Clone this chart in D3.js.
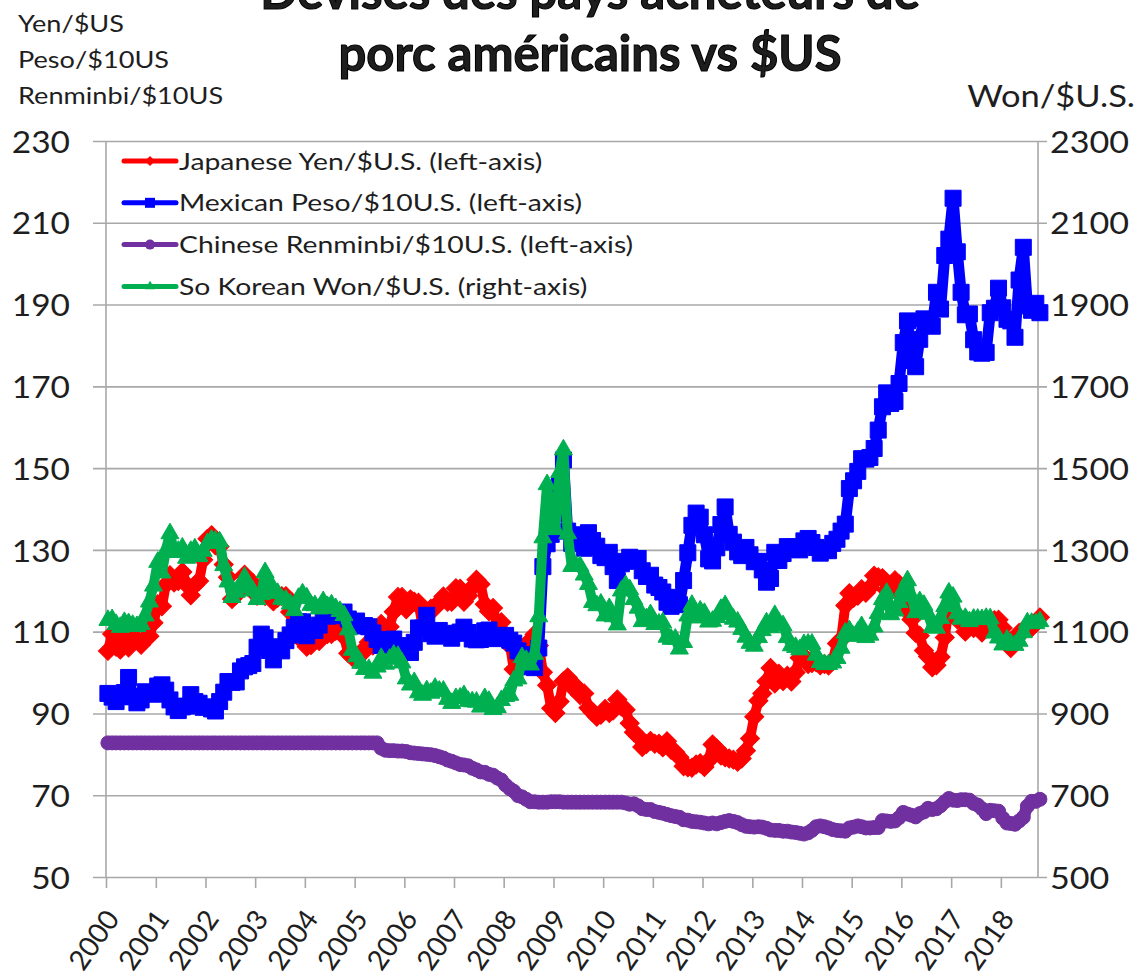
<!DOCTYPE html>
<html>
<head>
<meta charset="utf-8">
<script src="https://cdn.jsdelivr.net/npm/d3@7"></script>
<style>
  html, body { margin: 0; padding: 0; background: #ffffff; }
  svg { display: block; }
  text { font-family: Lato, "Open Sans", sans-serif; fill: #1e1e1e; }
</style>
</head>
<body>
<svg id="chart" width="1142" height="978"></svg>
<script>
// ---- Data: monthly values, January 2000 to October 2018 ----
const firstYear = 2000;
const lastMonth = "2018-10";

const leftTicks  = [50, 70, 90, 110, 130, 150, 170, 190, 210, 230];
const rightTicks = [500, 700, 900, 1100, 1300, 1500, 1700, 1900, 2100, 2300];

const seriesNames = [
  "Japanese Yen/$U.S. (left-axis)",
  "Mexican Peso/$10U.S. (left-axis)",
  "Chinese Renminbi/$10U.S. (left-axis)",
  "So Korean Won/$U.S. (right-axis)"
];

const leftAxisTitles = ["Yen/$US", "Peso/$10US", "Renminbi/$10US"];
const rightAxisTitle = "Won/$U.S.";
const titleLines = ["Devises des pays acheteurs de", "porc américains vs $US"];

const yenPerUSD = [
  105.3, 109.4, 106.3, 105.6, 108.3, 106.1, 108.2, 108.1, 106.8, 108.4, 108.9, 112.2, // 2000
  116.7, 116.2, 121.5, 123.8, 122.0, 122.4, 124.6, 121.5, 118.9, 121.4, 122.4, 127.6, // 2001
  132.7, 133.6, 131.1, 130.8, 126.4, 123.3, 118.0, 119.0, 120.5, 123.9, 121.6, 121.9, // 2002
  118.8, 119.3, 118.7, 119.9, 117.4, 118.3, 118.7, 118.7, 114.8, 109.5, 109.2, 107.7, // 2003
  106.3, 106.7, 108.5, 107.7, 112.2, 109.4, 109.4, 110.2, 110.0, 108.8, 104.7, 103.8, // 2004
  103.3, 104.9, 105.3, 107.4, 106.6, 108.8, 111.9, 110.6, 111.2, 114.9, 118.5, 118.5, // 2005
  115.5, 117.9, 117.3, 117.1, 111.5, 114.5, 115.6, 115.9, 117.2, 118.6, 117.3, 117.3, // 2006
  120.6, 120.5, 117.3, 118.8, 120.8, 122.7, 121.6, 116.7, 115.0, 115.8, 111.0, 112.3, // 2007
  107.6, 107.1, 100.8, 102.7, 104.4, 106.9, 106.9, 109.3, 106.6, 100.1,  96.9,  91.3, // 2008
   90.1,  92.9,  97.9,  98.8,  96.6,  96.6,  94.5,  94.9,  91.4,  90.3,  89.2,  89.7, // 2009
   91.1,  90.1,  90.7,  93.4,  91.7,  90.9,  87.6,  85.4,  84.4,  81.8,  82.5,  83.3, // 2010
   82.6,  82.6,  81.7,  83.2,  81.1,  80.5,  79.3,  77.1,  76.8,  76.7,  77.5,  77.8, // 2011
   76.9,  78.5,  82.4,  81.4,  79.7,  79.3,  79.0,  78.7,  78.2,  79.0,  80.9,  83.9, // 2012
   89.2,  93.1,  94.9,  97.8, 101.1,  97.3,  99.7,  97.9,  99.2,  97.8, 100.0, 103.6, // 2013
  103.9, 102.1, 102.3, 102.5, 101.8, 102.1, 101.7, 102.9, 107.1, 108.0, 116.4, 119.4, // 2014
  118.3, 118.8, 120.4, 119.5, 120.8, 123.7, 123.3, 123.1, 120.1, 120.1, 122.6, 121.6, // 2015
  118.2, 115.0, 113.0, 109.7, 109.0, 105.4, 103.9, 101.3, 101.8, 103.8, 108.6, 116.1, // 2016
  114.7, 113.0, 112.9, 110.0, 112.2, 110.9, 112.4, 109.8, 110.8, 112.9, 112.8, 112.9, // 2017
  110.9, 107.9, 106.0, 107.6, 109.7, 110.1, 111.4, 111.0, 112.1, 113.5                // 2018
];

const pesoPer10USD = [
   94.9,  94.0,  92.9,  94.1,  95.1,  98.8,  94.1,  92.6,  93.3,  95.3,  95.1,  94.7, // 2000
   96.7,  97.0,  95.7,  93.3,  91.6,  90.7,  91.6,  91.8,  94.6,  92.9,  92.5,  91.5, // 2001
   91.6,  91.1,  90.6,  92.9,  95.2,  97.8,  97.6,  97.7, 100.4, 101.4, 101.7, 102.2, // 2002
  106.2, 109.4, 108.5, 105.4, 103.1, 106.3, 105.3, 107.8, 109.2, 111.0, 112.4, 112.4, // 2003
  109.0, 110.5, 110.3, 111.6, 115.1, 113.8, 114.3, 113.9, 114.2, 114.8, 113.1, 112.2, // 2004
  112.6, 111.4, 111.5, 111.2, 109.7, 108.1, 106.6, 106.9, 107.9, 108.2, 106.6, 106.3, // 2005
  105.5, 104.9, 107.4, 110.9, 110.9, 114.0, 109.5, 108.9, 110.3, 109.4, 109.2, 108.4, // 2006
  109.6, 109.9, 111.1, 109.8, 108.2, 108.0, 108.1, 110.2, 110.4, 108.3, 109.0, 108.7, // 2007
  109.1, 107.9, 107.2, 105.3, 104.4, 103.3, 101.4, 101.2, 106.0, 125.9, 131.5, 133.8, // 2008
  138.9, 146.0, 152.0, 134.6, 131.6, 133.3, 133.7, 130.4, 134.2, 132.3, 130.9, 128.6, // 2009
  128.1, 129.4, 125.9, 122.5, 126.6, 127.2, 128.2, 127.4, 127.9, 124.9, 123.5, 123.8, // 2010
  121.4, 120.8, 119.7, 117.2, 116.2, 118.4, 116.6, 122.5, 129.3, 136.0, 139.0, 138.0, // 2011
  133.7, 127.8, 127.3, 130.5, 136.2, 140.5, 133.8, 131.9, 129.5, 128.6, 130.6, 128.8, // 2012
  127.1, 127.2, 125.1, 122.1, 123.0, 129.4, 127.4, 129.1, 130.8, 130.1, 130.7, 130.0, // 2013
  132.2, 132.8, 131.8, 130.6, 129.2, 129.9, 129.8, 131.6, 132.6, 134.6, 136.3, 145.0, // 2014
  146.9, 149.2, 152.3, 152.2, 152.6, 154.8, 159.3, 165.0, 168.4, 165.8, 166.3, 170.7, // 2015
  180.7, 186.0, 176.3, 174.8, 181.5, 186.5, 185.9, 184.7, 193.0, 188.9, 202.0, 206.0, // 2016
  216.0, 202.9, 193.0, 187.5, 187.7, 181.4, 178.4, 178.1, 178.3, 188.0, 189.1, 194.0, // 2017
  189.2, 186.4, 186.0, 182.0, 196.0, 204.0, 189.7, 188.6, 190.3, 188.0                // 2018
];

const renminbiPer10USD = [
  82.8, 82.8, 82.8, 82.8, 82.8, 82.8, 82.8, 82.8, 82.8, 82.8, 82.8, 82.8, // 2000
  82.8, 82.8, 82.8, 82.8, 82.8, 82.8, 82.8, 82.8, 82.8, 82.8, 82.8, 82.8, // 2001
  82.8, 82.8, 82.8, 82.8, 82.8, 82.8, 82.8, 82.8, 82.8, 82.8, 82.8, 82.8, // 2002
  82.8, 82.8, 82.8, 82.8, 82.8, 82.8, 82.8, 82.8, 82.8, 82.8, 82.8, 82.8, // 2003
  82.8, 82.8, 82.8, 82.8, 82.8, 82.8, 82.8, 82.8, 82.8, 82.8, 82.8, 82.8, // 2004
  82.8, 82.8, 82.8, 82.8, 82.8, 82.8, 81.5, 81.0, 80.9, 80.9, 80.8, 80.8, // 2005
  80.7, 80.4, 80.3, 80.2, 80.1, 80.0, 79.9, 79.7, 79.4, 79.1, 78.6, 78.3, // 2006
  77.9, 77.5, 77.4, 77.2, 76.6, 76.2, 75.7, 75.6, 75.1, 74.9, 74.2, 73.7, // 2007
  72.5, 71.6, 71.0, 69.9, 69.6, 69.0, 68.4, 68.4, 68.3, 68.3, 68.3, 68.4, // 2008
  68.4, 68.4, 68.3, 68.3, 68.3, 68.3, 68.3, 68.3, 68.3, 68.3, 68.3, 68.3, // 2009
  68.3, 68.3, 68.3, 68.3, 68.3, 68.1, 67.8, 67.9, 67.4, 66.7, 66.5, 66.5, // 2010
  66.0, 65.8, 65.6, 65.3, 65.0, 64.8, 64.6, 64.0, 63.9, 63.6, 63.5, 63.4, // 2011
  63.2, 63.0, 63.2, 63.0, 63.3, 63.6, 63.8, 63.6, 63.3, 62.8, 62.4, 62.3, // 2012
  62.2, 62.3, 62.2, 61.9, 61.5, 61.4, 61.4, 61.2, 61.2, 61.0, 60.9, 60.7, // 2013
  60.5, 60.8, 61.4, 62.3, 62.5, 62.3, 62.0, 61.6, 61.4, 61.3, 61.2, 62.0, // 2014
  62.2, 62.5, 62.3, 62.0, 62.0, 62.1, 62.1, 63.8, 63.7, 63.6, 63.7, 64.5, // 2015
  65.8, 65.4, 65.1, 64.7, 65.5, 65.9, 66.8, 66.5, 66.7, 67.4, 68.4, 69.2, // 2016
  68.8, 68.7, 68.9, 68.9, 68.8, 68.0, 67.6, 66.7, 65.5, 66.3, 66.2, 66.1, // 2017
  64.4, 63.2, 63.1, 62.9, 63.7, 64.6, 67.3, 68.5, 68.5, 69.0              // 2018
];

const wonPerUSD = [
  1128, 1130, 1118, 1111, 1123, 1120, 1116, 1113, 1118, 1139, 1173, 1212, // 2000
  1270, 1244, 1298, 1340, 1294, 1297, 1305, 1280, 1297, 1303, 1284, 1297, // 2001
  1316, 1325, 1322, 1320, 1262, 1222, 1184, 1197, 1214, 1233, 1208, 1200, // 2002
  1179, 1191, 1245, 1222, 1200, 1194, 1180, 1178, 1168, 1152, 1182, 1193, // 2003
  1183, 1165, 1164, 1156, 1174, 1162, 1166, 1157, 1150, 1140, 1105, 1055, // 2004
  1039, 1023, 1008, 1008,  999, 1014, 1035, 1021, 1033, 1043, 1040, 1024, // 2005
   985,  970,  976,  951,  945,  956,  950,  962,  955,  955,  935,  925, // 2006
   937,  938,  944,  930,  929,  928,  916,  937,  930,  910,  915,  932, // 2007
   942,  945,  980,  985, 1037, 1030, 1019, 1045, 1137, 1330, 1460, 1360, // 2008
  1350, 1490, 1545, 1340, 1260, 1261, 1260, 1239, 1216, 1172, 1164, 1168, // 2009
  1139, 1157, 1137, 1117, 1200, 1213, 1203, 1179, 1158, 1125, 1132, 1142, // 2010
  1118, 1119, 1122, 1087, 1082, 1082, 1058, 1074, 1139, 1165, 1134, 1151, // 2011
  1145, 1124, 1126, 1135, 1155, 1164, 1142, 1131, 1124, 1106, 1087, 1072, // 2012
  1065, 1086, 1103, 1122, 1110, 1140, 1122, 1115, 1086, 1066, 1062, 1056, // 2013
  1069, 1070, 1070, 1043, 1025, 1020, 1020, 1024, 1035, 1060, 1097, 1103, // 2014
  1089, 1099, 1113, 1086, 1092, 1112, 1145, 1179, 1194, 1142, 1151, 1172, // 2015
  1203, 1225, 1186, 1147, 1174, 1165, 1143, 1111, 1109, 1133, 1162, 1195, // 2016
  1185, 1144, 1131, 1133, 1125, 1131, 1131, 1130, 1133, 1132, 1097, 1085, // 2017
  1068, 1080, 1071, 1067, 1077, 1098, 1122, 1121, 1120, 1125              // 2018
];

// ---- Layout ----
const plotLeft = 106, plotRight = 1038, plotTop = 141, plotBottom = 877;
const stub = 12;                 // outer tick length on both value axes
const gridColor = "#a8a8a8";
const textStretch = 1.13;        // horizontal widening applied to the regular labels

const svg = d3.select("#chart");

const monthDate = i => new Date(firstYear, i, 15);
const x = d3.scaleTime()
  .domain([new Date(firstYear, 0, 1), d3.timeParse("%Y-%m")(lastMonth)])
  .range([plotLeft, plotRight]);
const yLeft = d3.scaleLinear().domain([50, 230]).range([plotBottom, plotTop]);
const yRight = d3.scaleLinear().domain([500, 2300]).range([plotBottom, plotTop]);

// widen a text element horizontally about its anchor point
function stretch(sel, sx) {
  sel.each(function () {
    const t = d3.select(this);
    const ax = +t.attr("x") || 0;
    t.attr("transform", `translate(${ax},0) scale(${sx},1) translate(${-ax},0)`);
  });
}

function label(x0, y0, str, size, opts = {}) {
  return svg.append("text")
    .attr("transform", `translate(${x0},${y0}) scale(${opts.sx || 1},1)`)
    .attr("text-anchor", opts.anchor || "start")
    .attr("font-size", size)
    .attr("font-weight", opts.weight || 400)
    .text(str);
}

// ---- Gridlines (span both outer tick stubs) ----
const gridG = svg.append("g")
  .attr("transform", `translate(${plotRight + stub - 3},0)`)
  .call(d3.axisLeft(yLeft).tickValues(leftTicks)
    .tickSize(plotRight + stub - 3 - (plotLeft - stub - 1)).tickFormat(""));
gridG.select(".domain").remove();
gridG.selectAll("line").attr("stroke", gridColor).attr("stroke-width", 1.6);

// vertical axis lines
svg.append("line")
  .attr("x1", plotLeft).attr("x2", plotLeft)
  .attr("y1", yLeft(230)).attr("y2", yLeft(50))
  .attr("stroke", gridColor).attr("stroke-width", 1.6);
svg.append("line")
  .attr("x1", plotRight).attr("x2", plotRight)
  .attr("y1", yRight(2300)).attr("y2", yRight(500))
  .attr("stroke", gridColor).attr("stroke-width", 1.6);

// ---- Left value labels ----
const leftG = svg.append("g")
  .attr("transform", `translate(${plotLeft},0)`)
  .call(d3.axisLeft(yLeft).tickValues(leftTicks).tickSize(0).tickPadding(36));
leftG.select(".domain").remove();
leftG.selectAll("text")
  .attr("font-size", 31).attr("font-family", "Lato, sans-serif").attr("fill", "#1e1e1e")
  .attr("dy", "0.36em");
stretch(leftG.selectAll("text"), 1.08);

// ---- Right value labels ----
const rightG = svg.append("g")
  .attr("transform", `translate(${plotRight},0)`)
  .call(d3.axisRight(yRight).tickValues(rightTicks).tickSize(0).tickPadding(12)
    .tickFormat(d3.format("d")));
rightG.select(".domain").remove();
rightG.selectAll("text")
  .attr("font-size", 31).attr("font-family", "Lato, sans-serif").attr("fill", "#1e1e1e")
  .attr("dy", "0.36em");
stretch(rightG.selectAll("text"), 1.1);

// ---- Time axis ----
const xG = svg.append("g")
  .attr("transform", `translate(0,${plotBottom})`)
  .call(d3.axisBottom(x).ticks(d3.timeYear.every(1)).tickSize(11)
    .tickFormat(d3.timeFormat("%Y")));
xG.select(".domain").remove();
xG.selectAll("line").attr("stroke", gridColor).attr("stroke-width", 1.6);
xG.selectAll("text")
  .attr("x", 0).attr("y", 0).attr("dy", 0)
  .attr("text-anchor", "end")
  .attr("font-size", 28).attr("font-family", "Lato, sans-serif").attr("fill", "#1e1e1e")
  .attr("transform", "translate(14,42) rotate(-55)");

// ---- Series ----
const series = [
  { name: seriesNames[0], values: yenPerUSD,        y: yLeft,  color: "#ff0000", shape: "diamond",  size: 19, width: 10 },
  { name: seriesNames[1], values: pesoPer10USD,     y: yLeft,  color: "#0000ff", shape: "square",   size: 16, width: 11 },
  { name: seriesNames[2], values: renminbiPer10USD, y: yLeft,  color: "#7030a0", shape: "circle",   size: 14, width: 12 },
  { name: seriesNames[3], values: wonPerUSD,        y: yRight, color: "#00b050", shape: "triangle", size: 18, width: 10 }
];

function markerPath(shape, k) {
  // k: nominal marker width in px
  switch (shape) {
    case "diamond":  return d3.symbol(d3.symbolSquare, (k / Math.SQRT2) ** 2)();
    case "square":   return d3.symbol(d3.symbolSquare, k * k)();
    case "circle":   return d3.symbol(d3.symbolCircle, Math.PI * (k / 2) ** 2)();
    case "triangle": return d3.symbol(d3.symbolTriangle, Math.sqrt(3) / 4 * k * k)();
  }
}
const markerRotation = shape => shape === "diamond" ? " rotate(45)" : "";

const plotG = svg.append("g");
series.forEach(s => {
  const g = plotG.append("g");
  const line = d3.line()
    .x((d, i) => x(monthDate(i)))
    .y(d => s.y(d));
  g.append("path")
    .datum(s.values)
    .attr("d", line)
    .attr("fill", "none")
    .attr("stroke", s.color)
    .attr("stroke-width", s.width)
    .attr("stroke-linejoin", "round")
    .attr("stroke-linecap", "round");
  const mp = markerPath(s.shape, s.size);
  g.selectAll("path.mk")
    .data(s.values)
    .join("path")
    .attr("class", "mk")
    .attr("d", mp)
    .attr("transform", (d, i) => `translate(${x(monthDate(i))},${s.y(d)})${markerRotation(s.shape)}`)
    .attr("fill", s.color)
    .attr("stroke", s.color)
    .attr("stroke-width", 1);
});

// ---- Legend ----
const legendRow0 = 161, legendStep = 41.8;
const legend = svg.append("g");
series.forEach((s, i) => {
  const ly = legendRow0 + i * legendStep;
  legend.append("line")
    .attr("x1", 124).attr("x2", 176).attr("y1", ly).attr("y2", ly)
    .attr("stroke", s.color).attr("stroke-width", 5).attr("stroke-linecap", "round");
  legend.append("path")
    .attr("d", markerPath(s.shape, 10))
    .attr("transform", `translate(150,${ly})${markerRotation(s.shape)}`)
    .attr("fill", s.color);
  legend.append("text")
    .attr("transform", `translate(179,${ly}) scale(${textStretch + 0.05},1)`)
    .attr("dy", "0.36em")
    .attr("font-size", 24)
    .attr("fill", "#111")
    .text(s.name);
});

// ---- Axis titles ----
leftAxisTitles.forEach((t, i) => label(18, 32 + i * 36, t, 24, { sx: textStretch }));
label(1135, 107, rightAxisTitle, 30, { anchor: "end", sx: 1.15 });

// ---- Chart title (first line runs off the top edge) ----
titleLines.forEach((t, i) =>
  label(590, 9 + i * 62, t, 49, { anchor: "middle", weight: 700 })
    .attr("fill", "#000").attr("stroke", "#000").attr("stroke-width", 1.1)
);
</script>
</body>
</html>
